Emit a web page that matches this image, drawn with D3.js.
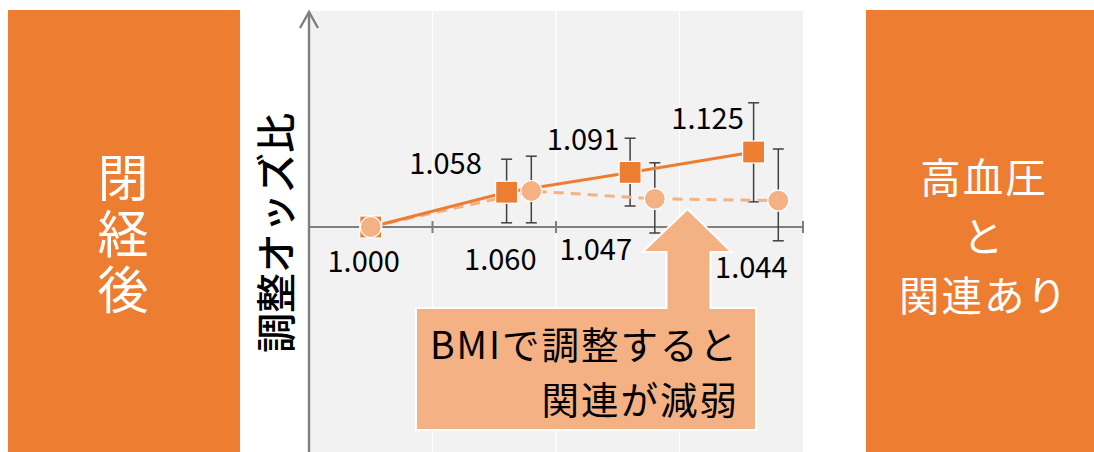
<!DOCTYPE html>
<html><head><meta charset="utf-8">
<script src="https://cdn.jsdelivr.net/npm/d3@7"></script>
<style>
html,body{margin:0;padding:0;background:#fff;}
svg{display:block;}
text{font-family:"Noto Sans CJK JP","Noto Sans",sans-serif;}
</style></head>
<body>
<svg id="chart" width="1094" height="452"></svg>
<script>
// ---- data ----
const categories = ["Q1", "Q2", "Q3", "Q4"];
// adjusted model (without BMI) – squares
const orBase   = [1.000, 1.058, 1.091, 1.125];
const loBase   = [null, 1.007, 1.035, 1.042];
const hiBase   = [null, 1.113, 1.148, 1.207];
// additionally adjusted for BMI – circles
const orBmi    = [1.000, 1.060, 1.047, 1.044];
const loBmi    = [null, 1.007, 0.990, 0.977];
const hiBmi    = [null, 1.118, 1.107, 1.130];
const yTitle = "調整オッズ比";
const leftLabel = "閉経後";
const rightLabel = ["高血圧", "と", "関連あり"];
const calloutLines = ["BMIで調整すると", "関連が減弱"];

// ---- layout / style ----
const C_DARK = "#ed7d31", C_LIGHT = "#f4b183", C_ERR = "#404040", C_AXIS = "#7f7f7f";
const plot = {left: 309, right: 803, top: 11, bottom: 452};
const svg = d3.select("#chart");

const x = d3.scaleBand().domain(categories).range([plot.left, plot.right]).padding(0);
const y = d3.scaleLinear().domain([0.625, 1.36]).range([plot.bottom, plot.top]);
const bw = x.bandwidth();
const offSq = 0.10, offCi = 0.30; // fraction of band width from center
const px = (i, off) => x(categories[i]) + bw / 2 + (i === 0 ? 0 : off * bw);

// side boxes
svg.append("rect").attr("x", 8).attr("y", 10).attr("width", 232).attr("height", 442).attr("fill", C_DARK);
svg.append("rect").attr("x", 866).attr("y", 10).attr("width", 228).attr("height", 442).attr("fill", C_DARK);
svg.append("text").attr("x", 123).attr("y", 236).attr("text-anchor", "middle")
  .style("writing-mode", "vertical-rl").style("letter-spacing", "5px")
  .attr("font-size", 51).attr("fill", "#fff").text(leftLabel);
rightLabel.forEach((t, i) => {
  svg.append("text").attr("x", 984).attr("y", 193 + i * 59).attr("text-anchor", "middle")
    .style("letter-spacing", "2px").attr("font-size", 40.5).attr("fill", "#fff").text(t);
});

// plot background
svg.append("rect").attr("x", plot.left + 1).attr("y", plot.top).attr("width", plot.right - plot.left - 1)
  .attr("height", plot.bottom - plot.top).attr("fill", "#f2f2f2");

// vertical gridlines at band boundaries
const bounds = categories.slice(1).map(c => x(c));
svg.append("g").selectAll("line").data(bounds).join("line")
  .attr("x1", d => d).attr("x2", d => d).attr("y1", plot.top).attr("y2", plot.bottom)
  .attr("stroke", "#ffffff").attr("stroke-width", 1.2);

// x axis line at OR = 1
const y1 = y(1);
svg.append("line").attr("x1", plot.left).attr("x2", plot.right).attr("y1", y1).attr("y2", y1)
  .attr("stroke", C_AXIS).attr("stroke-width", 2);
const tickXs = categories.map(c => x(c) + bw);
svg.append("g").selectAll("line").data(tickXs).join("line")
  .attr("x1", d => d).attr("x2", d => d).attr("y1", y1 - 6).attr("y2", y1 + 6)
  .attr("stroke", C_AXIS).attr("stroke-width", 2);

// y axis with arrow
svg.append("line").attr("x1", plot.left).attr("x2", plot.left).attr("y1", plot.top + 1).attr("y2", plot.bottom)
  .attr("stroke", C_AXIS).attr("stroke-width", 2.4);
svg.append("path").attr("d", `M${plot.left - 9},${plot.top + 17}L${plot.left},${plot.top + 1}L${plot.left + 9},${plot.top + 17}`)
  .attr("fill", "none").attr("stroke", C_AXIS).attr("stroke-width", 2.4);

// y title
svg.append("text").attr("transform", `translate(291,233) rotate(-90)`).attr("text-anchor", "middle")
  .attr("font-size", 40).attr("font-weight", 500).attr("fill", "#000").text(yTitle);

// error bars
function errBars(lo, hi, off) {
  const g = svg.append("g").attr("stroke", C_ERR).attr("stroke-width", 1.5);
  categories.forEach((c, i) => {
    if (lo[i] == null) return;
    const cx = px(i, off);
    g.append("line").attr("x1", cx).attr("x2", cx).attr("y1", y(lo[i])).attr("y2", y(hi[i]));
    [lo[i], hi[i]].forEach(v => g.append("line").attr("x1", cx - 5.5).attr("x2", cx + 5.5).attr("y1", y(v)).attr("y2", y(v)));
  });
}
errBars(loBase, hiBase, offSq);
errBars(loBmi, hiBmi, offCi);

// lines
const lineSq = d3.line().x((d, i) => px(i, offSq)).y(d => y(d));
const lineCi = d3.line().x((d, i) => px(i, offCi)).y(d => y(d));
svg.append("path").attr("d", lineCi(orBmi)).attr("fill", "none").attr("stroke", C_LIGHT)
  .attr("stroke-width", 3).attr("stroke-dasharray", "10,7");
svg.append("path").attr("d", lineSq(orBase)).attr("fill", "none").attr("stroke", C_DARK).attr("stroke-width", 3);

// markers
svg.append("g").selectAll("rect").data(orBase).join("rect")
  .attr("x", (d, i) => px(i, offSq) - 11).attr("y", d => y(d) - 11).attr("width", 22).attr("height", 22)
  .attr("fill", C_DARK).attr("stroke", "#fff").attr("stroke-width", 1.2);
svg.append("g").selectAll("circle").data(orBmi).join("circle")
  .attr("cx", (d, i) => px(i, offCi)).attr("cy", d => y(d)).attr("r", 10.5)
  .attr("fill", C_LIGHT).attr("stroke", "#fff").attr("stroke-width", 1.2);

// value labels (offsets in px from marker)
const sqLabelOff = [null, [-61, -18], [-47, -22], [-46, -23]];
const ciLabelOff = [[-7, 45], [-31, 79], [-59, 61], [-27, 77]];
const fmt = d3.format(".3f");
orBase.forEach((v, i) => {
  if (!sqLabelOff[i]) return;
  svg.append("text").attr("x", px(i, offSq) + sqLabelOff[i][0]).attr("y", y(v) + sqLabelOff[i][1])
    .attr("text-anchor", "middle").attr("font-size", 29).attr("fill", "#000").text(fmt(v));
});
orBmi.forEach((v, i) => {
  svg.append("text").attr("x", px(i, offCi) + ciLabelOff[i][0]).attr("y", y(v) + ciLabelOff[i][1])
    .attr("text-anchor", "middle").attr("font-size", 29).attr("fill", "#000").text(fmt(v));
});

// callout with up arrow
const ax = x(categories[3]) + 8; // arrow centre
svg.append("path")
  .attr("d", `M416,308L${ax - 21},308L${ax - 21},252L${ax - 45},252L${ax},209L${ax + 44},252L${ax + 23},252L${ax + 23},308L756,308L756,430L416,430Z`)
  .attr("fill", C_LIGHT).attr("stroke", "#fff").attr("stroke-width", 2);
calloutLines.forEach((t, i) => {
  svg.append("text").attr("x", 739).attr("y", 359 + i * 54.5).attr("text-anchor", "end")
    .style("letter-spacing", "2px").attr("font-size", 37.5).attr("fill", "#000").text(t);
});
</script>
</body></html>
